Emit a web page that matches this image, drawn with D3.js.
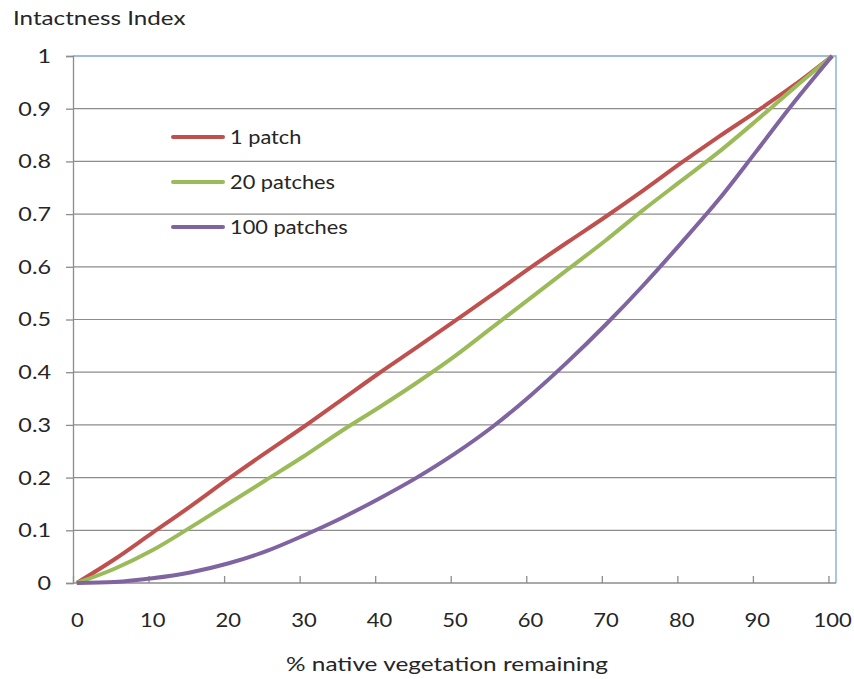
<!DOCTYPE html>
<html>
<head>
<meta charset="utf-8">
<script src="https://cdn.jsdelivr.net/npm/d3@7"></script>
<style>
  body { margin: 0; background: #fff; }
  text { font-family: Lato, "Open Sans", sans-serif; fill: #262626; }
</style>
</head>
<body>
<div id="viz"></div>
<script>
// % native vegetation remaining, read every 5 units
const pct = [0, 5, 10, 15, 20, 25, 30, 35, 40, 45, 50, 55, 60, 65, 70, 75, 80, 85, 90, 95, 100];
const onePatch = [0, 0.045, 0.095, 0.145, 0.197, 0.247, 0.296, 0.347, 0.398, 0.447, 0.497, 0.547, 0.598, 0.647, 0.695, 0.745, 0.797, 0.847, 0.895, 0.945, 1];
const twentyPatches = [0, 0.027, 0.062, 0.105, 0.15, 0.195, 0.24, 0.288, 0.333, 0.38, 0.43, 0.485, 0.54, 0.595, 0.65, 0.708, 0.763, 0.818, 0.878, 0.94, 1];
const hundredPatches = [0, 0.002, 0.009, 0.02, 0.037, 0.06, 0.09, 0.123, 0.16, 0.2, 0.245, 0.296, 0.355, 0.42, 0.49, 0.565, 0.645, 0.728, 0.82, 0.913, 1];
const seriesNames = ['1 patch', '20 patches', '100 patches'];
const colors = ['#C0504D', '#9BBB59', '#8064A2'];
const xTickLabels = [0, 10, 20, 30, 40, 50, 60, 70, 80, 90, 100];
const yTicks = [0, 0.1, 0.2, 0.3, 0.4, 0.5, 0.6, 0.7, 0.8, 0.9, 1];

const w = 854;
const h = 679;
const plotL = 73, plotR = 836, plotT = 56, plotB = 583;

const svg = d3.select('#viz').
append('svg').
attr('width', w).
attr('height', h);

// the original text is a wide Calibri look, so widen Lato a little
function stretch(sel, sx) {
  sel.each(function () {
    const t = d3.select(this);
    const x = +(t.attr('x') || 0);
    t.attr('x', x / sx).attr('transform', 'scale(' + sx + ',1)');
  });
}

// category style axis: 101 slots, points sit in the middle of each slot
const xScale = d3.scaleLinear().
domain([-0.5, 100.5]).
range([plotL, plotR]);

const yScale = d3.scaleLinear().
domain([0, 1]).
range([plotB, plotT]);

// gridlines
svg.append('g').
selectAll('line').
data(yTicks.slice(1, -1)).
enter().
append('line').
attr('x1', plotL).
attr('x2', plotR).
attr('y1', d => yScale(d)).
attr('y2', d => yScale(d)).
attr('stroke', '#8c8c8c').
attr('stroke-width', 1.2);

// blue top / right border
svg.append('path').
attr('d', 'M' + plotL + ',' + yScale(1) + 'H' + plotR + 'V' + plotB).
attr('fill', 'none').
attr('stroke', '#7ea6d8').
attr('stroke-width', 1.3);

// y axis
const yAxis = d3.axisLeft(yScale).
tickValues(yTicks).
tickSize(7).
tickPadding(15).
tickFormat(d => d === 0 || d === 1 ? String(d) : d.toFixed(1));

const gy = svg.append('g').
attr('id', 'y-axis').
attr('transform', 'translate(' + plotL + ',0)').
call(yAxis);

// x axis tick marks on slot boundaries
const xBoundaries = xTickLabels.slice(0, -1).map(d => d - 0.5).concat([99.5]);
const xMarks = d3.axisBottom(xScale).
tickValues(xBoundaries).
tickSize(-7).
tickFormat('');

const gxm = svg.append('g').
attr('transform', 'translate(0,' + plotB + ')').
call(xMarks);
gxm.select('.domain').remove();

const xAxis = d3.axisBottom(xScale).
tickValues(xTickLabels).
tickSize(0).
tickPadding(30);

const gx = svg.append('g').
attr('id', 'x-axis').
attr('transform', 'translate(0,' + plotB + ')').
call(xAxis);
gx.select('.domain').attr('d', 'M' + plotL + ',0H' + plotR);

[gy, gx, gxm].forEach(g => {
  g.selectAll('.domain, line').attr('stroke', '#8c8c8c').attr('stroke-width', 1.3);
  g.selectAll('text').
  style('font-family', 'Lato, sans-serif').
  style('font-size', '20px').
  attr('fill', '#262626');
});
stretch(gy.selectAll('text'), 1.17);
stretch(gx.selectAll('text'), 1.1);

// lines
const series = [onePatch, twentyPatches, hundredPatches];
const line = d3.line().
x((d, i) => xScale(pct[i])).
y(d => yScale(d)).
curve(d3.curveMonotoneX);

svg.append('g').
selectAll('path').
data(series).
enter().
append('path').
attr('d', line).
attr('fill', 'none').
attr('stroke', (d, i) => colors[i]).
attr('stroke-width', 4).
attr('stroke-linejoin', 'round');

// legend
const legend = svg.append('g').
selectAll('g').
data(seriesNames).
enter().
append('g').
attr('transform', (d, i) => 'translate(173,' + (137 + i * 45) + ')');

legend.append('line').
attr('x1', 0).
attr('x2', 50).
attr('stroke', (d, i) => colors[i]).
attr('stroke-width', 4).
attr('stroke-linecap', 'round');

const legendText = legend.append('text').
attr('x', 57).
attr('y', 7).
style('font-size', '20px').
text(d => d);
stretch(legendText, 1.09);

// titles
const yTitle = svg.append('text').
attr('x', 13).
attr('y', 25).
style('font-size', '20px').
text('Intactness Index');
stretch(yTitle, 1.21);

const xTitle = svg.append('text').
attr('x', 447).
attr('y', 671).
attr('text-anchor', 'middle').
style('font-size', '20px').
text('% native vegetation remaining');
stretch(xTitle, 1.22);
</script>
</body>
</html>
